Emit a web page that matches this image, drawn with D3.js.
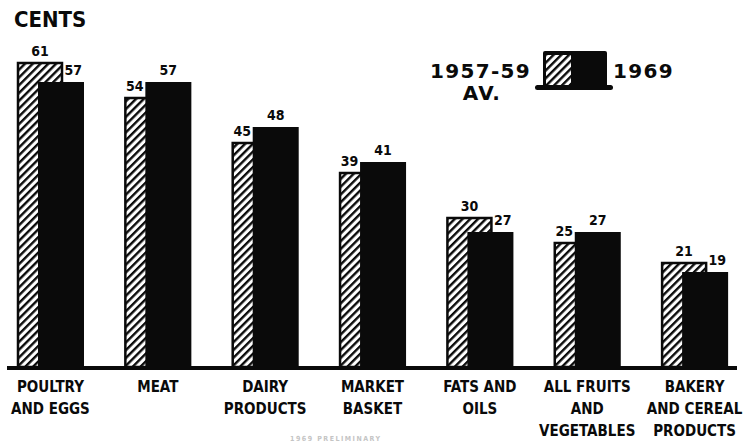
<!DOCTYPE html>
<html>
<head>
<meta charset="utf-8">
<script src="https://cdn.jsdelivr.net/npm/d3@7"></script>
<style>
  html, body { margin: 0; padding: 0; background: #fff; }
  svg { display: block; }
  .cond { font-family: "DejaVu Sans Condensed", "DejaVu Sans", sans-serif; font-stretch: condensed; font-weight: bold; }
  .wide { font-family: "DejaVu Sans", sans-serif; font-weight: bold; }
</style>
</head>
<body>
<div id="chart"></div>
<script>
const categories = [
  "POULTRY|AND EGGS",
  "MEAT",
  "DAIRY|PRODUCTS",
  "MARKET|BASKET",
  "FATS AND|OILS",
  "ALL FRUITS|AND|VEGETABLES",
  "BAKERY|AND CEREAL|PRODUCTS"
];
const avg195759 = [61, 54, 45, 39, 30, 25, 21];
const val1969 = [57, 57, 48, 41, 27, 27, 19];
const seriesLabels = ["1957-59", "AV.", "1969"];

const width = 745;
const height = 442;
const baseY = 367;
const ink = "#0a0a0a";

const svg = d3.select("#chart").append("svg")
  .attr("width", width)
  .attr("height", height);

const defs = svg.append("defs");
const hatch = defs.append("pattern")
  .attr("id", "hatch")
  .attr("patternUnits", "userSpaceOnUse")
  .attr("width", 5.5)
  .attr("height", 5.5)
  .attr("patternTransform", "rotate(45)");
hatch.append("rect").attr("width", 5.5).attr("height", 5.5).attr("fill", "#fff");
hatch.append("rect").attr("width", 2.4).attr("height", 5.5).attr("fill", ink);

const x = d3.scaleBand()
  .domain(categories)
  .range([17, 728])
  .paddingInner(0.377)
  .paddingOuter(0);

const y = d3.scaleLinear()
  .domain([0, 70])
  .range([baseY, baseY - 5 * 70]);

const barW = 46;
const offset = 21;

const rows = categories.map((c, i) => ({ cat: c, a: avg195759[i], b: val1969[i] }));

svg.append("text")
  .attr("class", "cond")
  .attr("x", 14)
  .attr("y", 27)
  .attr("font-size", 22)
  .attr("fill", ink)
  .text("CENTS");

const groups = svg.append("g").selectAll("g")
  .data(rows)
  .join("g")
  .attr("transform", d => `translate(${x(d.cat)},0)`);

groups.append("rect")
  .attr("x", 1)
  .attr("y", d => y(d.a) + 1)
  .attr("width", barW - 2)
  .attr("height", d => baseY - y(d.a) - 1)
  .attr("fill", "url(#hatch)")
  .attr("stroke", ink)
  .attr("stroke-width", 2.5);

groups.append("rect")
  .attr("x", offset)
  .attr("y", d => y(d.b))
  .attr("width", barW)
  .attr("height", d => baseY - y(d.b))
  .attr("fill", ink);

groups.append("text")
  .attr("class", "cond")
  .attr("font-size", 14)
  .attr("text-anchor", "middle")
  .attr("x", d => d.a >= d.b ? barW / 2 : offset / 2)
  .attr("y", d => y(d.a) - 6)
  .attr("fill", ink)
  .text(d => d.a);

groups.append("text")
  .attr("class", "cond")
  .attr("font-size", 14)
  .attr("text-anchor", d => d.b > d.a ? "middle" : "end")
  .attr("x", d => d.b > d.a ? offset + barW / 2 : offset + barW - 2)
  .attr("y", d => y(d.b) - 7)
  .attr("fill", ink)
  .text(d => d.b);

// baseline
svg.append("rect")
  .attr("x", 7)
  .attr("y", baseY - 1)
  .attr("width", 730)
  .attr("height", 4)
  .attr("fill", ink);

// category labels
groups.append("text")
  .attr("class", "cond")
  .attr("font-size", 15)
  .attr("text-anchor", "middle")
  .attr("fill", ink)
  .selectAll("tspan")
  .data(d => d.cat.split("|"))
  .join("tspan")
  .attr("x", x.bandwidth() / 2)
  .attr("y", (d, i) => 392 + i * 22)
  .text(d => d);

// legend
const lg = svg.append("g");
lg.append("text")
  .attr("class", "wide")
  .attr("font-size", 20)
  .attr("letter-spacing", 1.3)
  .attr("text-anchor", "end")
  .attr("x", 531)
  .attr("y", 78)
  .attr("fill", ink)
  .text(seriesLabels[0]);
lg.append("text")
  .attr("class", "wide")
  .attr("font-size", 20)
  .attr("letter-spacing", 1.3)
  .attr("text-anchor", "middle")
  .attr("x", 482)
  .attr("y", 100)
  .attr("fill", ink)
  .text(seriesLabels[1]);
lg.append("text")
  .attr("class", "wide")
  .attr("font-size", 20)
  .attr("letter-spacing", 1.3)
  .attr("x", 613)
  .attr("y", 78)
  .attr("fill", ink)
  .text(seriesLabels[2]);
lg.append("rect")
  .attr("x", 543).attr("y", 51).attr("width", 64).attr("height", 36)
  .attr("rx", 2)
  .attr("fill", ink);
lg.append("rect")
  .attr("x", 546).attr("y", 55).attr("width", 25).attr("height", 30)
  .attr("fill", "url(#hatch)");
lg.append("rect")
  .attr("x", 535).attr("y", 85).attr("width", 78).attr("height", 5)
  .attr("rx", 2.5)
  .attr("fill", ink);

// faint footnote at the bottom edge
svg.append("text")
  .attr("class", "cond")
  .attr("font-size", 7)
  .attr("x", 290)
  .attr("y", 441)
  .attr("letter-spacing", 1.5)
  .attr("fill", "#c4c4c4")
  .text("1969 PRELIMINARY");
</script>
</body>
</html>
